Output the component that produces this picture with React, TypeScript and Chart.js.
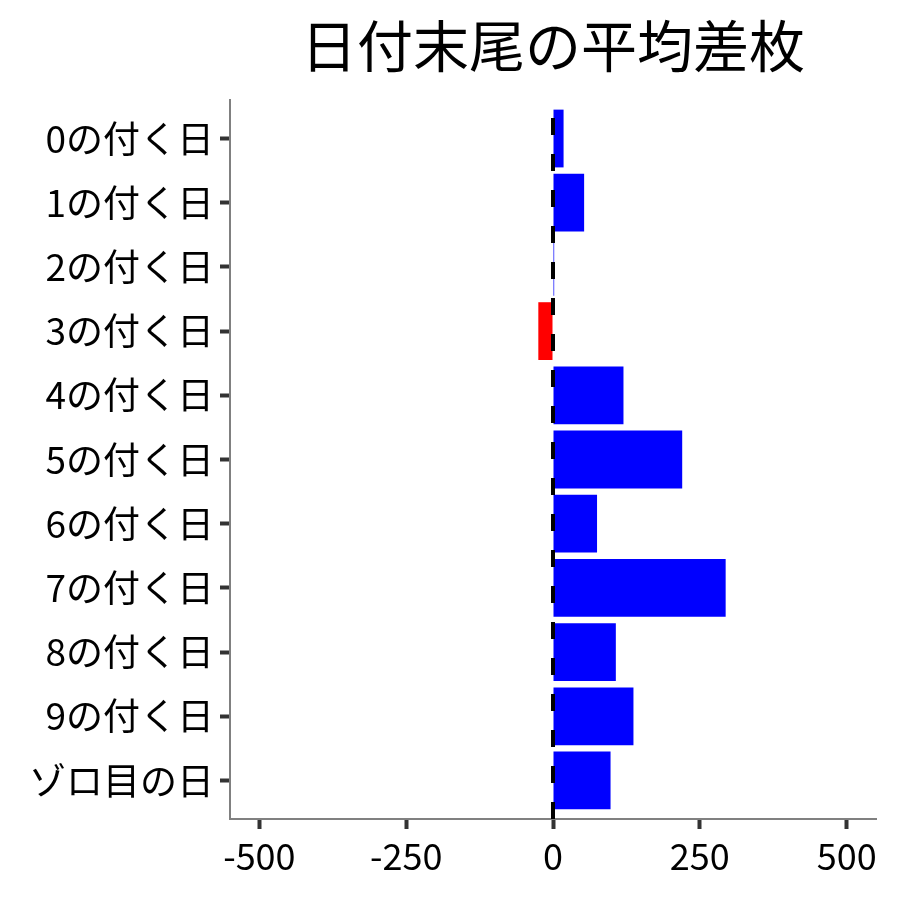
import React, { useEffect, useRef } from "react";
import { Chart, registerables } from "chart.js";

Chart.register(...registerables);

const categories = [
  "0の付く日",
  "1の付く日",
  "2の付く日",
  "3の付く日",
  "4の付く日",
  "5の付く日",
  "6の付く日",
  "7の付く日",
  "8の付く日",
  "9の付く日",
  "ゾロ目の日",
];
const values = [18, 53, 2, -25, 120, 220, 75, 294, 107, 137, 98];
const xTicks = [-500, -250, 0, 250, 500];
const titleText = "日付末尾の平均差枚";

const FONT = '"Noto Sans CJK JP", "Noto Sans", sans-serif';

export default function App() {
  const ref = useRef<HTMLCanvasElement | null>(null);

  useEffect(() => {
    if (!ref.current) return;

    const overlay = {
      id: "overlay",
      afterDatasetsDraw(chart: any) {
        const { ctx, chartArea, scales } = chart;
        const x0 = scales.x.getPixelForValue(0);
        ctx.save();
        ctx.strokeStyle = "#000";
        ctx.lineWidth = 4;
        ctx.setLineDash([17, 19]);
        ctx.beginPath();
        ctx.moveTo(x0, chartArea.bottom);
        ctx.lineTo(x0, chartArea.top);
        ctx.stroke();
        ctx.restore();
      },
      afterDraw(chart: any) {
        const { ctx, chartArea } = chart;
        ctx.save();
        ctx.fillStyle = "#000";
        ctx.font = `56px ${FONT}`;
        ctx.textAlign = "center";
        ctx.textBaseline = "middle";
        ctx.fillText(titleText, (chartArea.left + chartArea.right) / 2, 46);
        ctx.restore();
      },
    };

    const chart = new Chart(ref.current, {
      type: "bar",
      data: {
        datasets: [
          {
            data: values.map((v, i) => ({ x: v, y: i })),
            backgroundColor: values.map((v) => (v < 0 ? "#FF0000" : "#0000FF")),
            borderWidth: 0,
            barPercentage: 1,
            categoryPercentage: 0.9,
          },
        ],
      },
      options: {
        indexAxis: "y",
        animation: false,
        responsive: false,
        layout: { padding: { top: 100, right: 24, left: 0, bottom: 0 } },
        plugins: {
          legend: { display: false },
          title: { display: false },
          tooltip: { enabled: false },
        },
        scales: {
          x: {
            type: "linear",
            min: -550,
            max: 550,
            afterBuildTicks: (scale: any) => {
              scale.ticks = xTicks.map((v) => ({ value: v }));
            },
            afterFit: (scale: any) => {
              scale.height = 81;
            },
            ticks: {
              color: "#000",
              font: { family: FONT, size: 36 },
              padding: 6,
              maxRotation: 0,
              autoSkip: false,
            },
            grid: {
              drawOnChartArea: false,
              drawTicks: true,
              tickLength: 10,
              tickColor: "#333",
              tickWidth: 4,
            },
            border: { color: "#808080", width: 2 },
          },
          y: {
            type: "linear",
            min: -0.6,
            max: 10.6,
            reverse: true,
            offset: false,
            afterBuildTicks: (scale: any) => {
              scale.ticks = categories.map((_, i) => ({ value: i }));
            },
            afterFit: (scale: any) => {
              scale.width = 230;
            },
            ticks: {
              color: "#000",
              font: { family: FONT, size: 37 },
              padding: 6,
              autoSkip: false,
              callback: (v: any) => categories[Math.round(Number(v))] ?? "",
            },
            grid: {
              offset: false,
              drawOnChartArea: false,
              drawTicks: true,
              tickLength: 10,
              tickColor: "#333",
              tickWidth: 4,
            },
            border: { color: "#808080", width: 2 },
          },
        },
      },
      plugins: [overlay],
    } as any);

    return () => chart.destroy();
  }, []);

  return (
    <div style={{ position: "absolute", left: 0, top: 0, width: 900, height: 900, background: "#fff" }}>
      <canvas ref={ref} width={900} height={900} style={{ display: "block" }} />
    </div>
  );
}
